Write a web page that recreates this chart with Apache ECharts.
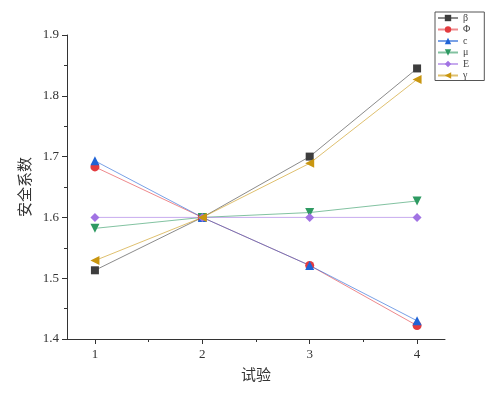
<!DOCTYPE html>
<html><head><meta charset="utf-8">
<script src="https://cdn.jsdelivr.net/npm/echarts@6/dist/echarts.min.js"></script>
<style>html,body{margin:0;padding:0;background:#fff}#c{width:491px;height:396px}</style>
</head><body><div id="c"></div>
<script>
var xValues = [1, 2, 3, 4];
var xTickLabels = [1, 2, 3, 4];
var yTickValues = [1.4, 1.5, 1.6, 1.7, 1.8, 1.9];
var seriesNames = ['β', 'Φ', 'c', 'μ', 'E', 'γ'];
var beta  = [1.513, 1.600, 1.700, 1.845];
var phi   = [1.683, 1.600, 1.521, 1.422];
var cVals = [1.693, 1.600, 1.521, 1.430];
var mu    = [1.582, 1.600, 1.608, 1.627];
var eVals = [1.600, 1.600, 1.600, 1.600];
var gamma = [1.529, 1.600, 1.689, 1.827];
var allValues = [beta, phi, cVals, mu, eVals, gamma];
var colors = ['#3d3d3d', '#e33b3f', '#1f63d6', '#2e9a62', '#a173e3', '#c9960f'];
var symbols = ['rect', 'circle', 'triangle', 'triangle', 'diamond', 'triangle'];
var rotates = [0, 0, 0, 180, 0, 90];
var sizes = [8, 9, 9, 9, 9, 9];

var font = '"Liberation Serif","DejaVu Serif",serif';
var chart = echarts.init(document.getElementById('c'));
var series = seriesNames.map(function (n, i) {
  return {
    name: n, type: 'line', xAxisIndex: 0,
    data: xValues.map(function (x, j) { return [x, allValues[i][j]]; }),
    symbol: symbols[i], symbolSize: sizes[i], symbolRotate: rotates[i],
    itemStyle: { color: colors[i] },
    lineStyle: { width: 1, color: colors[i], opacity: 0.6 },
    emphasis: { disabled: true }
  };
});
chart.setOption({
  animation: false,
  backgroundColor: '#fff',
  grid: { left: 67, top: 35, right: 46, bottom: 57 },
  legend: {
    orient: 'vertical', left: 435, top: 12,
    itemWidth: 20, itemHeight: 8, itemGap: 1.5,
    padding: [1, 14, 0, 2],
    borderColor: '#555', borderWidth: 1,
    textStyle: { fontFamily: font, fontSize: 10, color: '#444' },
    data: seriesNames
  },
  xAxis: [{
    type: 'value', min: 0.74, max: 4.26,
    name: '试验', nameLocation: 'middle', nameGap: 28,
    nameTextStyle: { fontFamily: '"Noto Sans CJK SC"', fontSize: 15, color: '#333' },
    axisLine: { show: true, lineStyle: { color: '#333', width: 1 } },
    axisTick: { show: true, customValues: xTickLabels, length: 5, lineStyle: { color: '#333' } },
    axisLabel: { customValues: xTickLabels, fontFamily: font, fontSize: 13, color: '#333', margin: 9 },
    splitLine: { show: false }
  }, {
    type: 'value', min: 0.74, max: 4.26, position: 'bottom',
    axisLine: { show: false },
    axisTick: { show: true, customValues: [1.5, 2.5, 3.5], length: 3, lineStyle: { color: '#333' } },
    axisLabel: { show: false },
    splitLine: { show: false }
  }],
  yAxis: {
    type: 'value', min: 1.4, max: 1.9, interval: 0.1,
    name: '安全系数', nameLocation: 'middle', nameGap: 32, nameRotate: 90,
    nameTextStyle: { fontFamily: '"Noto Sans CJK SC"', fontSize: 15, color: '#333' },
    axisLine: { show: true, lineStyle: { color: '#333', width: 1 } },
    axisTick: { show: true, length: 5, lineStyle: { color: '#333' } },
    minorTick: { show: true, splitNumber: 2, length: 3, lineStyle: { color: '#333' } },
    axisLabel: { fontFamily: font, fontSize: 13, color: '#333', margin: 8,
      formatter: function (v) { return v.toFixed(1); } },
    splitLine: { show: false }
  },
  series: series
});
</script></body></html>
